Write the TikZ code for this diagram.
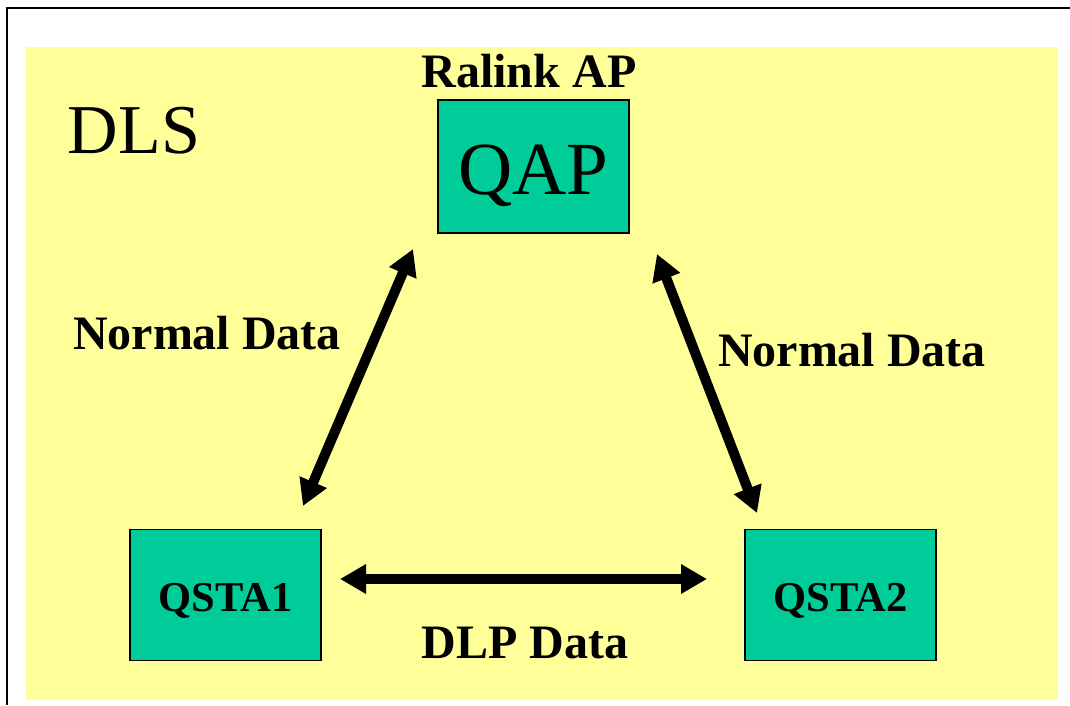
\documentclass[tikz,border=0pt]{standalone}
\usepackage{fontspec}
\setmainfont{Liberation Serif}
\usetikzlibrary{arrows.meta}
\definecolor{giallo}{HTML}{FFFF99}
\definecolor{verde}{HTML}{00CC99}
\tikzset{
  stazione/.style={draw=black, line width=1.2pt, fill=verde, minimum width=191pt, minimum height=131pt, inner sep=0pt},
  freccia/.style={line width=10pt, {Triangle[width=28pt,length=26pt]}-{Triangle[width=28pt,length=26pt]}},
  etichetta/.style={inner sep=0pt, font=\fontsize{48}{48}\selectfont\bfseries}
}
\begin{document}
\begin{tikzpicture}[x=1pt, y=-1pt]
  \useasboundingbox (0,0) rectangle (1070,705);
  % Cornice e sfondo
  \draw[line width=2pt] (1070,8) -- (7,8) -- (7,705);
  \fill[giallo] (26,47) rectangle (1058,700);

  % Nodi
  \node[stazione, minimum height=133pt] (qap) at (533.5,166.5) {\smash{\raisebox{-27.5pt}{\fontsize{75}{75}\selectfont QAP}}};
  \node[stazione] (qsta1) at (225.5,595) {\smash{\raisebox{-16pt}{\fontsize{42.5}{42}\selectfont\bfseries QSTA1}}};
  \node[stazione] (qsta2) at (840.5,595) {\smash{\raisebox{-16pt}{\fontsize{42.5}{42}\selectfont\bfseries QSTA2}}};
  \node[etichetta] (ralink) at (529,71) {Ralink AP};
  \node[inner sep=0pt] (dls) at (134,131) {\fontsize{70}{70}\selectfont DLS};

  % Punti estremi delle frecce
  \coordinate (s1) at (303,506);
  \coordinate (a1) at (413,249);
  \coordinate (a2) at (657,254);
  \coordinate (s2) at (757,513);
  \coordinate (b1) at (340,579);
  \coordinate (b2) at (707,579);

  % Frecce
  \draw[freccia] (s1) -- (a1);
  \draw[freccia] (a2) -- (s2);
  \draw[freccia] (b1) -- (b2);

  % Etichette
  \node[etichetta] (nd1) at (207,333) {Normal Data};
  \node[etichetta] (nd2) at (852,350) {Normal Data};
  \node[etichetta] (dlp) at (525,643) {DLP Data};
\end{tikzpicture}
\end{document}
